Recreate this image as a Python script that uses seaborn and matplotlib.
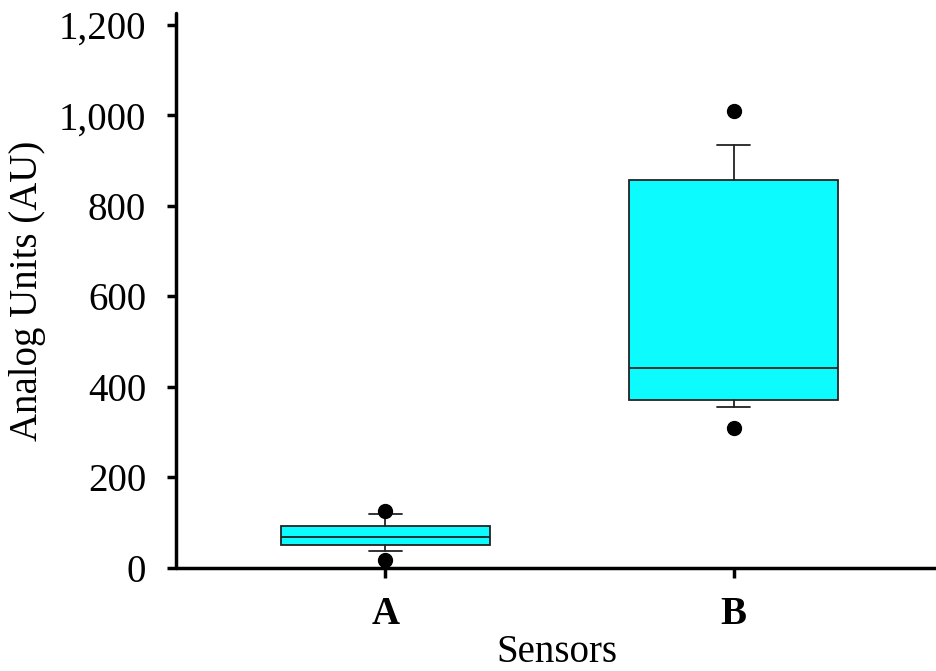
import matplotlib
matplotlib.use("Agg")
import matplotlib.pyplot as plt
import seaborn as sns
from matplotlib.ticker import FuncFormatter

# Data
categories = ["A", "B"]
q1 = [51, 371]
median = [68, 441]
q3 = [93, 857]
whisker_low = [37, 356]
whisker_high = [119, 935]
outliers = [[126, 18], [1009, 309]]
y_ticks = [0, 200, 400, 600, 800, 1000, 1200]

sns.set_style("ticks")
plt.rcParams["font.family"] = ["Liberation Serif", "DejaVu Serif"]

fig = plt.figure(figsize=(9.37, 6.71), dpi=100)
ax = fig.add_axes([176 / 937, 103 / 671, 761 / 937, 555 / 671])

stats = []
for i, c in enumerate(categories):
    stats.append(dict(label=c, q1=q1[i], med=median[i], q3=q3[i],
                      whislo=whisker_low[i], whishi=whisker_high[i],
                      fliers=outliers[i]))

edge = "#222222"
ax.bxp(stats, positions=range(len(categories)), widths=0.6,
       patch_artist=True, showfliers=True, capwidths=0.095,
       boxprops=dict(facecolor="#0cfbff", edgecolor=edge, linewidth=1.3),
       medianprops=dict(color=edge, linewidth=1.3),
       whiskerprops=dict(color=edge, linewidth=1.3),
       capprops=dict(color=edge, linewidth=1.3),
       flierprops=dict(marker="o", markerfacecolor="black",
                       markeredgecolor="black", markersize=10))

ax.set_xlim(-0.6, 1.583)
ax.set_ylim(0, 1226)
ax.set_yticks(y_ticks)
ax.yaxis.set_major_formatter(FuncFormatter(lambda v, p: f"{int(v):,}"))
ax.set_xticks(range(len(categories)))
ax.set_xticklabels(categories, fontweight="bold")

sns.despine(ax=ax)
for s in ["left", "bottom"]:
    ax.spines[s].set_linewidth(2.5)
    ax.spines[s].set_color("black")
    ax.spines[s].set_capstyle("round")

ax.tick_params(axis="y", length=6.5, width=2.5, pad=15, labelsize=28,
               color="black", labelcolor="black", direction="out")
ax.tick_params(axis="x", length=7.5, width=2.5, pad=13, labelsize=28,
               color="black", labelcolor="black", direction="out")

ax.set_xlabel("Sensors", fontsize=28, labelpad=0.5, color="black")
ax.set_ylabel("Analog Units (AU)", fontsize=28, labelpad=9, color="black")
ax.grid(False)

fig.savefig("out.png", dpi=100)
